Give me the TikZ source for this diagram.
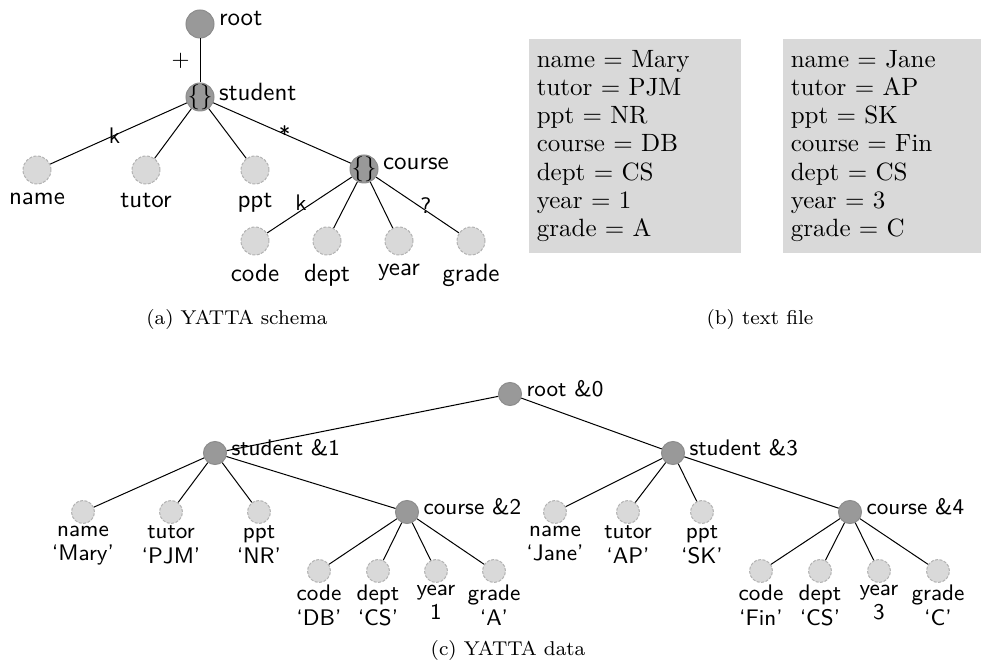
\documentclass[tikz,border=0pt]{standalone}

\tikzstyle{grp} = [circle, draw=black!45, fill=gray!80, minimum size=11.2pt, inner sep=0pt]
\tikzstyle{leaf} = [circle, draw=gray!60, dash pattern=on 1.2pt off 0.6pt, fill=gray!30, minimum size=11.2pt, inner sep=0pt]
\tikzstyle{sm} = [minimum size=9.2pt]
\tikzstyle{tag} = [font=\sffamily, inner sep=1.6pt, yshift=2.2pt]
\tikzstyle{dtag} = [tag, font=\sffamily\small]
\tikzstyle{val} = [font=\sffamily\fontsize{9}{9.8}\selectfont, align=center, inner sep=0.6pt]
\tikzstyle{card} = [font=\sffamily\small, inner sep=1pt]
\tikzstyle{recbox} = [anchor=north west, fill=gray!30, align=left, minimum height=85.2pt, font=\fontsize{10}{11.3}\selectfont]
\tikzstyle{subcap} = [font=\footnotesize]

\begin{document}
\begin{tikzpicture}[x=0.4pt,y=-0.4pt]
\useasboundingbox (0,0) rectangle (981,665);

% (a) schema tree
\node[grp] (sroot) at (200,24) [label={[tag]right:root}] {};
\node[grp] (sstu) at (200,97) [label={center:$\{\}$}, label={[tag]right:student}] {};
\node[leaf] (sname) at (37,170) [label={[font=\sffamily]below:name}] {};
\node[leaf] (stutor) at (146,170) [label={[font=\sffamily]below:tutor}] {};
\node[leaf] (sppt) at (255,170) [label={[font=\sffamily]below:ppt}] {};
\node[grp] (scrs) at (364,169) [label={center:$\{\}$}, label={[tag]right:course}] {};
\node[leaf] (scode) at (255,241) [label={[font=\sffamily]below:code}] {};
\node[leaf] (sdept) at (327,241) [label={[font=\sffamily]below:dept}] {};
\node[leaf] (syear) at (399,241) [label={[font=\sffamily]below:year}] {};
\node[leaf] (sgrade) at (471,241) [label={[font=\sffamily]below:grade}] {};

\draw (sroot) -- node[card, left=3pt]{$+$} (sstu);
\draw (sstu) -- node[card, pos=.53]{k} (sname);
\draw (sstu) -- (stutor);
\draw (sstu) -- (sppt);
\draw (sstu) -- node[card, pos=.52]{*} (scrs);
\draw (scrs) -- node[card, pos=.6, yshift=3pt]{k} (scode);
\draw (scrs) -- (sdept);
\draw (scrs) -- (syear);
\draw (scrs) -- node[card, pos=.6, yshift=2pt]{?} (sgrade);

\node[subcap] (capa) at (237,320) {(a) YATTA schema};

% (b) the two records
\node[recbox, text width=78.5pt] (mary) at (528,39) {name $=$ Mary\\tutor $=$ PJM\\ppt $=$ NR\\course $=$ DB\\dept $=$ CS\\year $=$ 1\\grade $=$ A};
\node[recbox, text width=72.9pt] (jane) at (782,39) {name $=$ Jane\\tutor $=$ AP\\ppt $=$ SK\\course $=$ Fin\\dept $=$ CS\\year $=$ 3\\grade $=$ C};

\node[subcap] (capb) at (760,320) {(b) text file};

% (c) data tree
\node[grp, sm] (root) at (510,394) [label={[dtag]right:root \&0}] {};
\node[grp, sm] (mstu) at (215,453) [label={[dtag]right:student \&1}] {};
\node[grp, sm] (jstu) at (673,453) [label={[dtag]right:student \&3}] {};

\node[leaf, sm] (mname) at (83,512) [label={[val]below:name\\`Mary'}] {};
\node[leaf, sm] (mtutor) at (171,512) [label={[val]below:tutor\\`PJM'}] {};
\node[leaf, sm] (mppt) at (259,512) [label={[val]below:ppt\\`NR'}] {};
\node[grp, sm] (mcrs) at (407,512) [label={[dtag]right:course \&2}] {};
\node[leaf, sm] (mcode) at (319,571) [label={[val]below:code\\`DB'}] {};
\node[leaf, sm] (mdept) at (378,571) [label={[val]below:dept\\`CS'}] {};
\node[leaf, sm] (myear) at (436,571) [label={[val]below:year\\1}] {};
\node[leaf, sm] (mgrade) at (494,571) [label={[val]below:grade\\`A'}] {};

\node[leaf, sm] (jname) at (555,512) [label={[val]below:name\\`Jane'}] {};
\node[leaf, sm] (jtutor) at (628,512) [label={[val]below:tutor\\`AP'}] {};
\node[leaf, sm] (jppt) at (702,512) [label={[val]below:ppt\\`SK'}] {};
\node[grp, sm] (jcrs) at (850,512) [label={[dtag]right:course \&4}] {};
\node[leaf, sm] (jcode) at (761,571) [label={[val]below:code\\`Fin'}] {};
\node[leaf, sm] (jdept) at (820,571) [label={[val]below:dept\\`CS'}] {};
\node[leaf, sm] (jyear) at (879,571) [label={[val]below:year\\3}] {};
\node[leaf, sm] (jgrade) at (938,571) [label={[val]below:grade\\`C'}] {};

\draw (root) -- (mstu);
\draw (root) -- (jstu);
\foreach \s in {m,j} {
  \foreach \c in {name,tutor,ppt,crs}
    \draw (\s stu) -- (\s\c);
  \foreach \c in {code,dept,year,grade}
    \draw (\s crs) -- (\s\c);
}

\node[subcap] (capc) at (508,651) {(c) YATTA data};

\end{tikzpicture}
\end{document}
